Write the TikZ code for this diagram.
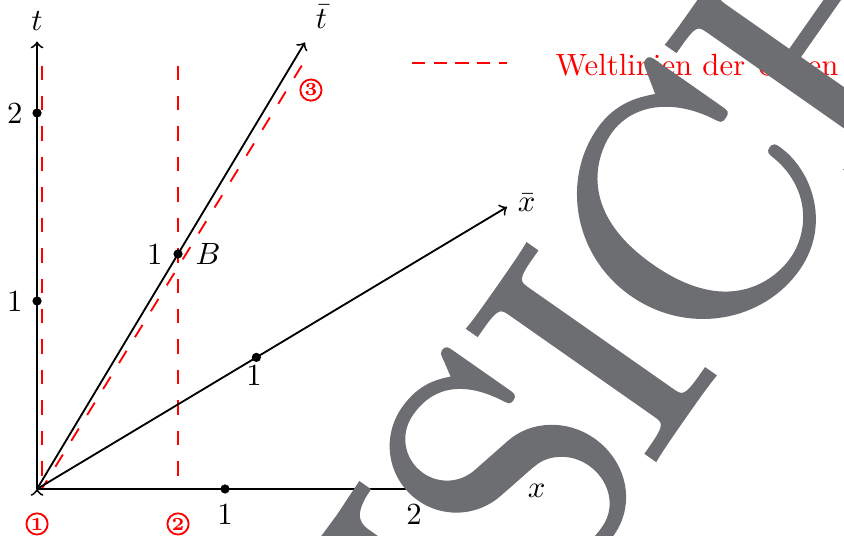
\documentclass[tikz,border=0pt]{standalone}
\usepackage{fontspec}
\newfontfamily\wmfont[FakeBold=1.2,LetterSpace=-2.5]{lmroman10-regular.otf}
\definecolor{wmgray}{RGB}{109,110,114}
\begin{document}
\begin{tikzpicture}[x=2.15cm,y=2.15cm,
  axis/.style={line width=0.6pt,->},
  wline/.style={red,line width=0.6pt,dash pattern=on 4.7pt off 5.2pt},
  dot/.style={circle,fill=black,inner sep=0pt,minimum size=3pt},
  lab/.style={inner sep=0pt},
  circnum/.style={circle,draw=red,text=red,line width=0.6pt,inner sep=0pt,minimum size=6.9pt,font=\fontsize{6}{6}\selectfont\bfseries},
  wmark/.style={rotate=55,anchor=base,text=wmgray,inner sep=0pt,font=\wmfont\fontsize{108.7}{115}\selectfont}]
\useasboundingbox (-0.197,-0.245) rectangle (4.2925,2.601);
% coordinates
\coordinate (O) at (0,0);
\coordinate (Ob) at (0,-0.012);
\coordinate (Tend) at (0,2.38);
\coordinate (Xend) at (2.5,0);
\coordinate (TBend) at (1.425,2.375);
\coordinate (XBend) at (2.5,1.5);
\coordinate (W1a) at (0.025,0);
\coordinate (W1b) at (0.025,2.252);
\coordinate (W2a) at (0.75,0);
\coordinate (W2b) at (0.75,2.252);
\coordinate (W3b) at (1.408,2.252);
\coordinate (L1) at (1.995,2.264);
\coordinate (L2) at (2.5,2.264);
% red world lines
\draw[wline] (W1b) -- (W1a);
\draw[wline] (W2b) -- (W2a);
\draw[wline] (W3b) -- (W1a);
% axes
\draw[axis] (O) -- (Tend);
\draw[axis] (O) -- (Xend);
\draw[axis] (O) -- (TBend);
\draw[axis] (O) -- (XBend);
\draw[line width=0.6pt,-to] (Ob) -- (O);
% axis labels
\node[lab] (tl) at (0,2.487) {$t$};
\node[lab] (xl) at (2.657,-0.01) {$x$};
\node[lab] (tbl) at (1.513,2.51) {$\bar t$};
\node[lab] (xbl) at (2.604,1.524) {$\bar x$};
% ticks
\node[dot] (t1) at (0,1) {};
\node[dot] (t2) at (0,2) {};
\node[dot] (x1) at (1,0) {};
\node[dot] (x2) at (2,0) {};
\node[dot] (B) at (0.75,1.25) {};
\node[dot] (xb1) at (1.1667,0.7) {};
\node[lab,anchor=east] (t1l) at (-0.074,1) {1};
\node[lab,anchor=east] (t2l) at (-0.074,2) {2};
\node[lab,anchor=north] (x1l) at (1,-0.0745) {1};
\node[lab,anchor=north] (x2l) at (2.005,-0.0745) {2};
\node[lab,anchor=east] (Bl) at (0.670,1.25) {1};
\node[lab,anchor=west] (Bn) at (0.840,1.25) {$B$};
\node[lab,anchor=north] (xb1l) at (1.154,0.660) {1};
% circled numbers
\node[circnum] (c1) at (0,-0.186) {1};
\node[circnum] (c2) at (0.75,-0.186) {2};
\node[circnum] (c3) at (1.457,2.122) {3};
% legend
\draw[red,line width=0.6pt,dash pattern=on 4.3pt off 2.75pt] (L1) -- (L2);
\node[lab,anchor=base west,text=red] (leg) at (2.755,2.202) {Weltlinien der Uhren};
% watermark
\node[wmark] (wm) at (3.515,0.479) {ANSICHT};
\end{tikzpicture}
\end{document}
